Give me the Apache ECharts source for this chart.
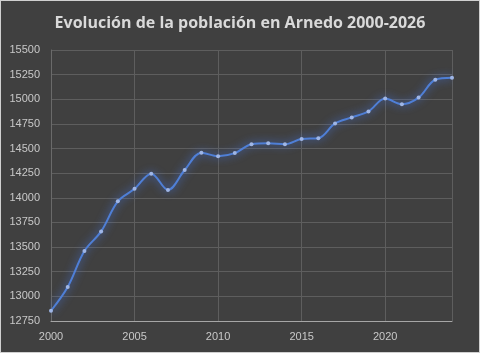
<!DOCTYPE html>
<html lang="es">
<head>
    <meta charset="UTF-8">
    <title>Evolución de la población en Arnedo</title>
    <script src="https://cdn.jsdelivr.net/npm/echarts@6/dist/echarts.min.js"></script>
    <style>
        html, body { margin: 0; padding: 0; background: #404040; }
        #chart { width: 480px; height: 353px; box-sizing: border-box; border: 1px solid #d0d0d0; }
    </style>
</head>
<body>
<div id="chart"></div>
<script>
    // datos
    const years = [2000, 2001, 2002, 2003, 2004, 2005, 2006, 2007, 2008, 2009, 2010, 2011, 2012,
        2013, 2014, 2015, 2016, 2017, 2018, 2019, 2020, 2021, 2022, 2023, 2024];
    const poblacion = [12854, 13095, 13460, 13659, 13964, 14091, 14245, 14080, 14282, 14457, 14423, 14454, 14544,
        14554, 14544, 14597, 14605, 14755, 14816, 14876, 15007, 14950, 15017, 15198, 15218];
    const titulo = 'Evolución de la población en Arnedo 2000-2026';

    const points = years.map(function (y, i) { return [y, poblacion[i]]; });

    let myChart = echarts.init(document.getElementById('chart'), null, {renderer: 'canvas'});
    let option = {
        backgroundColor: '#404040',
        animation: false,
        title: {
            text: titulo,
            left: 'center',
            top: 9,
            textStyle: {
                color: '#d9d9d9',
                fontFamily: 'Open Sans',
                fontWeight: 'bold',
                fontSize: 16
            }
        },
        grid: {
            left: 50,
            right: 27,
            top: 49,
            bottom: 31,
            containLabel: false
        },
        xAxis: {
            type: 'value',
            min: 2000,
            max: 2024,
            interval: 5,
            axisLine: {lineStyle: {color: '#a6a6a6', width: 1}},
            axisTick: {show: false},
            axisLabel: {
                color: '#c8c8c8',
                fontFamily: 'Liberation Sans',
                fontSize: 11,
                margin: 10,
                showMaxLabel: false,
                formatter: function (v) { return String(v); }
            },
            splitLine: {show: true, lineStyle: {color: '#5e5e5e'}}
        },
        yAxis: {
            type: 'value',
            min: 12750,
            max: 15500,
            interval: 250,
            axisLine: {show: true, lineStyle: {color: '#6a6a6a'}},
            axisTick: {show: false},
            axisLabel: {
                color: '#c8c8c8',
                fontFamily: 'Liberation Sans',
                fontSize: 11,
                margin: 11,
                formatter: function (v) { return String(v); }
            },
            splitLine: {lineStyle: {color: '#5e5e5e'}}
        },
        series: [{
            type: 'line',
            data: points,
            smooth: 0.35,
            symbol: 'circle',
            symbolSize: 4,
            itemStyle: {color: '#9fb6e6', borderWidth: 0},
            lineStyle: {
                color: '#4f7fd6',
                width: 2,
                shadowColor: 'rgba(70,120,235,1)',
                shadowBlur: 9
            }
        }]
    };
    myChart.setOption(option);
</script>
</body>
</html>
